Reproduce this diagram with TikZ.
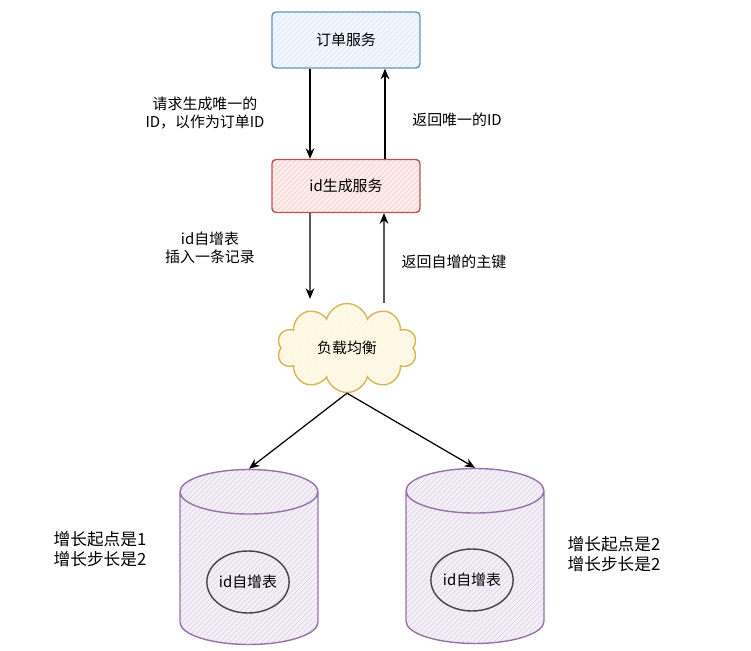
\documentclass[tikz,border=0pt]{standalone}
\usepackage{fontspec}
\setmainfont{Noto Sans CJK SC}
\usetikzlibrary{shapes.geometric,shapes.symbols,arrows.meta,patterns}
\definecolor{orderFill}{HTML}{DAE8FC}
\definecolor{orderLine}{HTML}{6C8EBF}
\definecolor{genFill}{HTML}{F8CECC}
\definecolor{genLine}{HTML}{B85450}
\definecolor{lbFill}{HTML}{FFF2CC}
\definecolor{lbLine}{HTML}{D6B656}
\definecolor{dbFill}{HTML}{E1D5E7}
\definecolor{dbLine}{HTML}{9673A6}
\definecolor{tblLine}{HTML}{444444}
\begin{document}
\begin{tikzpicture}[x=0.02cm,y=-0.02cm,font=\fontsize{8.5}{10}\selectfont,
    hatch/.style={preaction={fill=#1!35},pattern=north east lines,pattern color=#1}]
  \useasboundingbox (0,0) rectangle (751,651);
        \begin{scope}[every node/.style={rectangle,rounded corners=0.08cm,thick,minimum width=2.96cm}]
          \node[draw=orderLine,hatch=orderFill,minimum height=1.12cm] (order) at (346,40) {订单服务};
          \node[draw=genLine,hatch=genFill,minimum height=1.06cm] (idgen) at (346,186) {id生成服务};
        \end{scope}
        \node[cloud,cloud puffs=10,aspect=1.6,thick,draw=lbLine,hatch=lbFill,
              minimum width=2.8cm,minimum height=1.78cm] (lb) at (347,348) {负载均衡};
        \begin{scope}[every node/.style={cylinder,shape border rotate=90,aspect=3.8,thick,anchor=shape center,
              draw=dbLine,hatch=dbFill,minimum width=2.76cm,minimum height=3.5cm}]
          \node (db1) at (249,557) {};
          \node (db2) at (475,556) {};
        \end{scope}
        \begin{scope}[every node/.style={ellipse,draw=tblLine,line width=0.8pt,
              minimum width=1.6cm,minimum height=1.24cm,inner sep=0pt}]
          \node (tbl1) at (248,582) {id自增表};
          \node (tbl2) at (472,580) {id自增表};
        \end{scope}
        \begin{scope}[every node/.style={align=center}]
          \node (req) at (205,113) {请求生成唯一的\\ID，以作为订单ID};
          \node (ret) at (457,120) {返回唯一的ID};
          \node (ins) at (210,248) {id自增表\\插入一条记录};
          \node (key) at (454,262) {返回自增的主键};
        \end{scope}
        \begin{scope}[every node/.style={align=left,font=\fontsize{9.5}{11.5}\selectfont}]
          \node (cfg1) at (100,549) {增长起点是1\\增长步长是2};
          \node (cfg2) at (614,554) {增长起点是2\\增长步长是2};
        \end{scope}
        \begin{scope}[every edge/.style={draw=black,line width=0.7pt,-{Stealth[length=6pt,width=5pt]}}]
          \path ([xshift=-0.72cm]order.south) edge ([xshift=-0.72cm]idgen.north);
          \path ([xshift=0.78cm]idgen.north) edge ([xshift=0.78cm]order.south);
          \path ([xshift=-0.72cm]idgen.south) edge ([xshift=-0.74cm,yshift=0.08cm]lb.north);
          \path ([xshift=0.74cm]lb.north) edge ([xshift=0.76cm]idgen.south);
          \path (lb.south) edge (db1.north);
          \path (lb.south) edge (db2.north);
        \end{scope}
  		\end{tikzpicture}
\end{document}
